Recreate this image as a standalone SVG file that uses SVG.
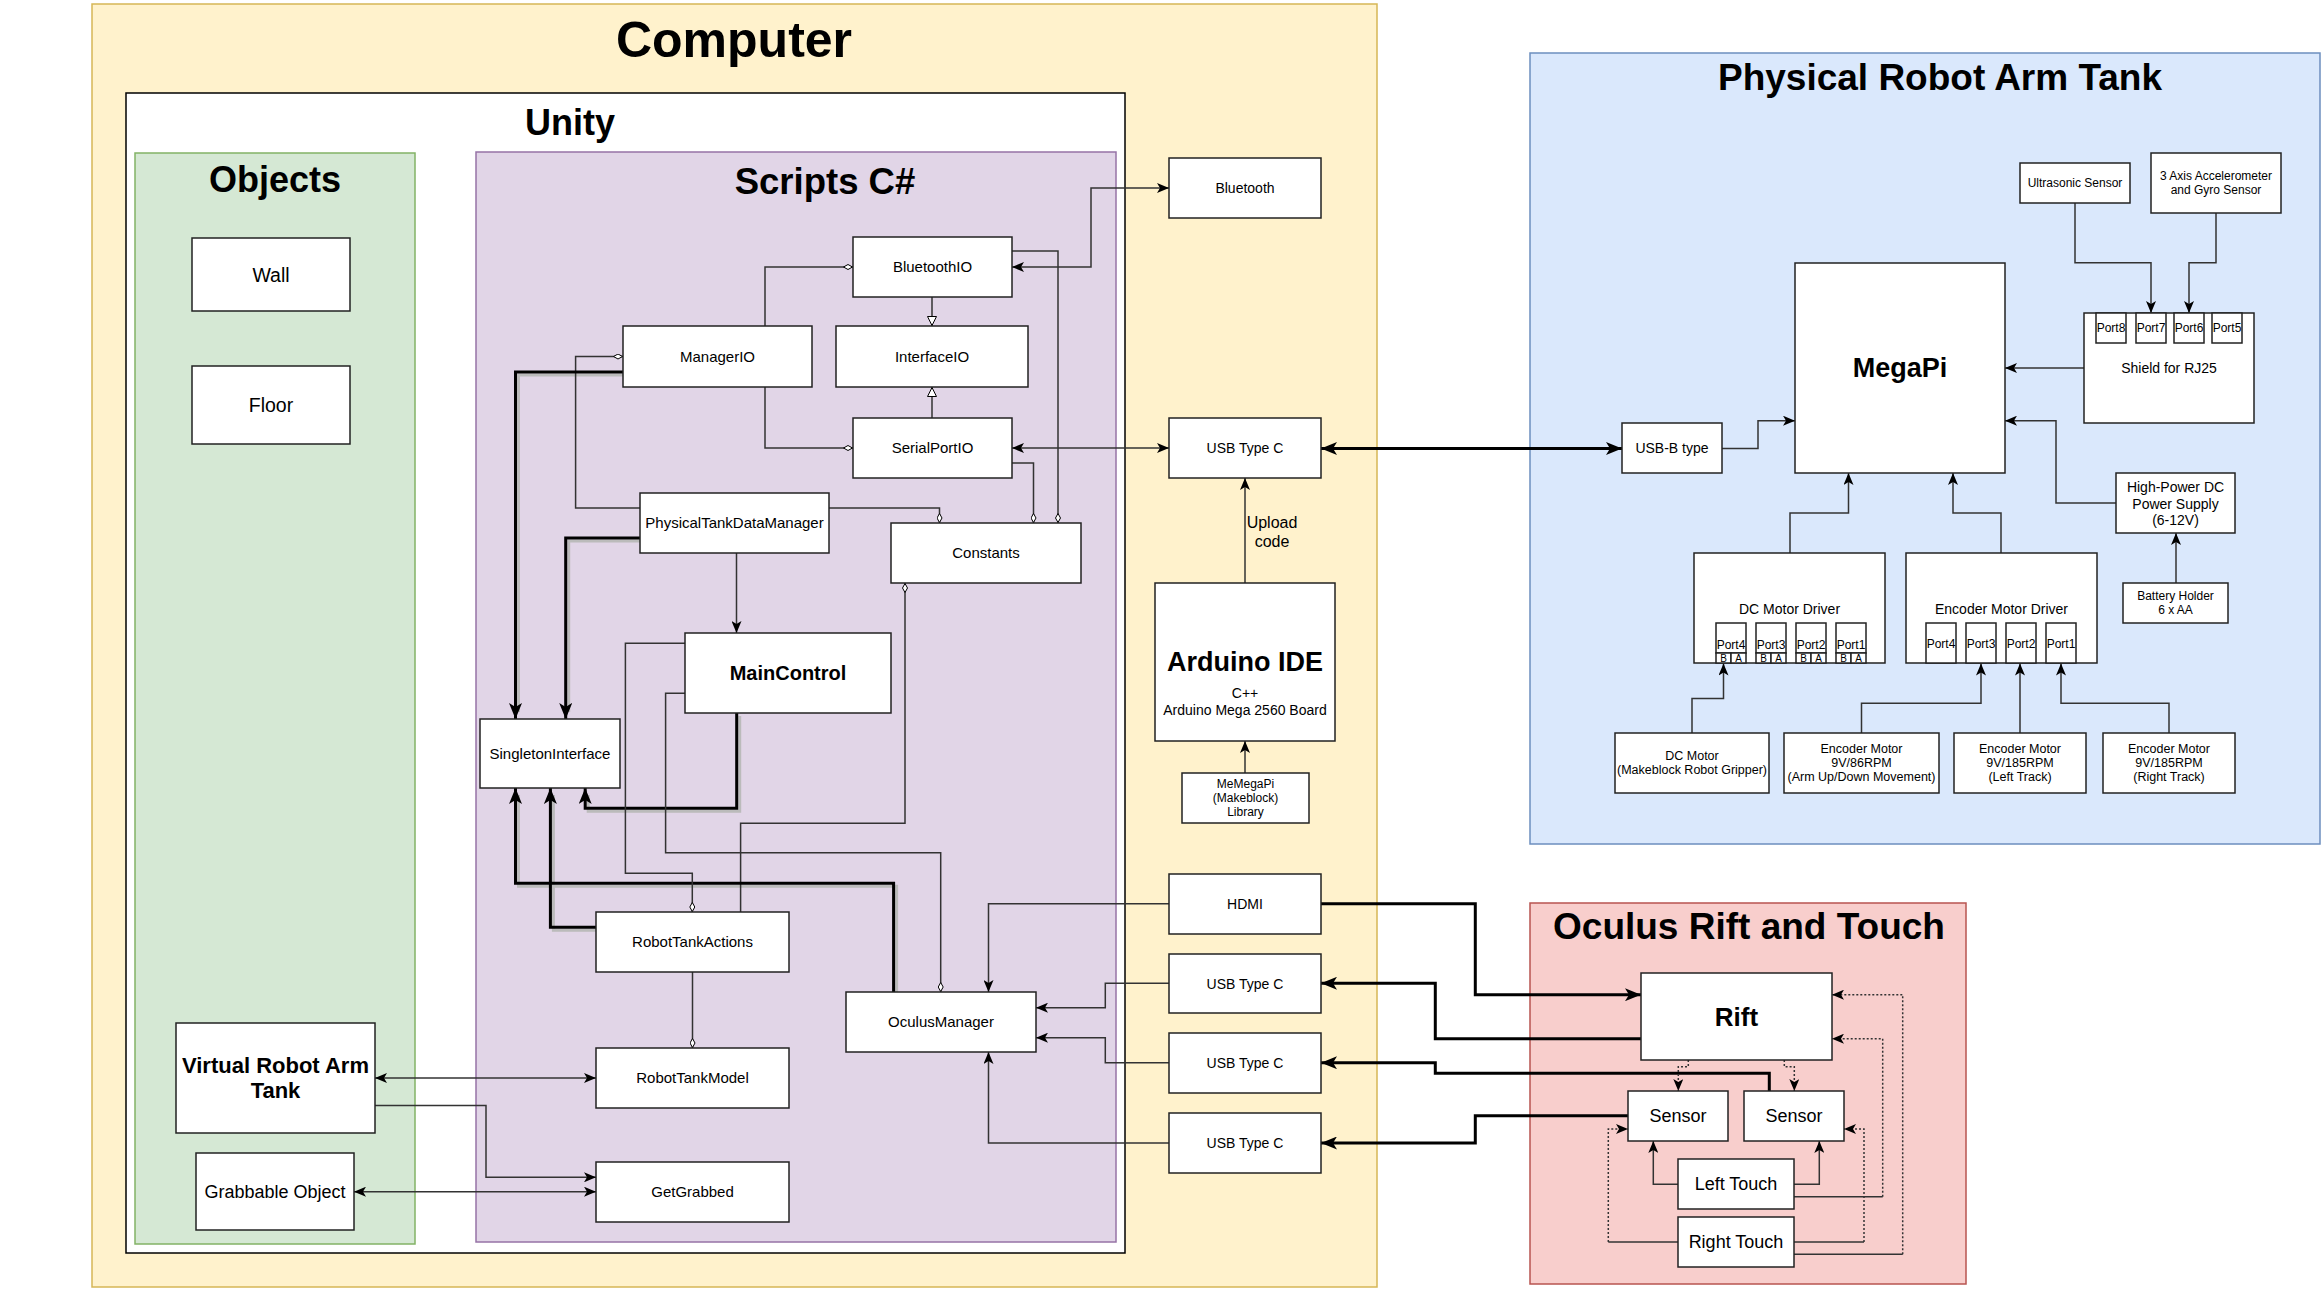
<svg xmlns="http://www.w3.org/2000/svg" width="2321" height="1289" viewBox="0 0 2321 1289">
<style>
.box{fill:#fff;stroke:#222;stroke-width:1.5}
.t{font-family:"Liberation Sans",Arial,Helvetica,sans-serif;text-anchor:middle;fill:#000}
.b{font-weight:bold}
.c{fill:none;stroke:#333;stroke-width:1.5}
.ck{fill:none;stroke:#000;stroke-width:3}
.sh{fill:none;stroke:#bbb;stroke-width:3}
.d{stroke-dasharray:2 2}
.f12{font-size:12px}.f14{font-size:14px}.f15{font-size:15px}.f18{font-size:18px}
</style>
<defs>
<marker id="a" markerUnits="userSpaceOnUse" markerWidth="12" markerHeight="10" viewBox="0 0 12 10" refX="12" refY="5" orient="auto-start-reverse"><path d="M0,0 L12,5 L0,10 L3,5 Z" fill="#000"/></marker>
<marker id="ak" markerUnits="userSpaceOnUse" markerWidth="16" markerHeight="13" viewBox="0 0 16 13" refX="16" refY="6.5" orient="auto-start-reverse"><path d="M0,0 L16,6.5 L0,13 L4,6.5 Z" fill="#000"/></marker>
<marker id="dm" markerUnits="userSpaceOnUse" markerWidth="10" markerHeight="6" viewBox="0 0 10 6" refX="10" refY="3" orient="auto"><path d="M0.5,3 L5,0.5 L9.5,3 L5,5.5 Z" fill="#fff" stroke="#000" stroke-width="1"/></marker>
<marker id="tr" markerUnits="userSpaceOnUse" markerWidth="10" markerHeight="10" viewBox="0 0 10 10" refX="10" refY="5" orient="auto"><path d="M0.5,0.5 L9.5,5 L0.5,9.5 Z" fill="#fff" stroke="#000" stroke-width="1"/></marker>
</defs>

<g id="computer">
<rect x="92" y="4" width="1285" height="1283" fill="#fff2cc" stroke="#d6b656" stroke-width="1.5"/>
<text class="t b" x="734" y="57" font-size="50">Computer</text>
</g>
<g id="unity">
<rect x="126" y="93" width="999" height="1160" fill="#fff" stroke="#000" stroke-width="1.5"/>
<text class="t b" x="570" y="135" font-size="36">Unity</text>
</g>
<g id="objects">
<rect x="135" y="153" width="280" height="1091" fill="#d5e8d4" stroke="#82b366" stroke-width="1.5"/>
<text class="t b" x="275" y="192" font-size="36">Objects</text>
</g>
<g id="scripts">
<rect x="476" y="152" width="640" height="1090" fill="#e1d5e7" stroke="#9673a6" stroke-width="1.5"/>
<text class="t b" x="825" y="194" font-size="36.5">Scripts C#</text>
</g>
<g id="physical">
<rect x="1530" y="53" width="790" height="791" fill="#dae8fc" stroke="#6c8ebf" stroke-width="1.5"/>
<text class="t b" x="1940" y="90" font-size="37">Physical Robot Arm Tank</text>
</g>
<g id="oculus">
<rect x="1530" y="903" width="436" height="381" fill="#f8cecc" stroke="#b85450" stroke-width="1.5"/>
<text class="t b" x="1749" y="939" font-size="37">Oculus Rift and Touch</text>
</g>

<g id="connectors">
<path class="sh" d="M626,375 H518.5 V712"/>
<path class="sh" d="M643,541 H568.7 V712"/>
<path class="sh" d="M739.7,716 V811.3 H588.2 V795"/>
<path class="sh" d="M896.6,995 V886.3 H518.5 V795"/>
<path class="sh" d="M599,930.3 H553.4 V795"/>
<path class="c" d="M1012,267 H1091 V188 H1169" marker-start="url(#a)" marker-end="url(#a)"/>
<path class="c" d="M1012,448 H1169" marker-start="url(#a)" marker-end="url(#a)"/>
<path class="c" d="M932,297 V326" marker-end="url(#tr)"/>
<path class="c" d="M932,418 V387" marker-end="url(#tr)"/>
<path class="c" d="M765,326 V267 H853" marker-end="url(#dm)"/>
<path class="c" d="M765,387 V448 H853" marker-end="url(#dm)"/>
<path class="c" d="M640,508 H575.6 V356.5 H623" marker-end="url(#dm)"/>
<path class="c" d="M829,508 H939.5 V523" marker-end="url(#dm)"/>
<path class="c" d="M1012,463 H1033.5 V523" marker-end="url(#dm)"/>
<path class="c" d="M1012,251 H1058 V523" marker-end="url(#dm)"/>
<path class="c" d="M740.6,912 V823.3 H905 V583" marker-end="url(#dm)"/>
<path class="c" d="M736.5,553 V633" marker-end="url(#a)"/>
<path class="ck" d="M623,372 H515.5 V719" marker-end="url(#ak)"/>
<path class="ck" d="M640,538 H565.7 V719" marker-end="url(#ak)"/>
<path class="ck" d="M736.7,713 V808.3 H585.2 V788" marker-end="url(#ak)"/>
<path class="ck" d="M893.6,992 V883.3 H515.5 V788" marker-end="url(#ak)"/>
<path class="ck" d="M596,927.3 H550.4 V788" marker-end="url(#ak)"/>
<path class="c" d="M685,643.3 H625.4 V873.3 H692.3 V912" marker-end="url(#dm)"/>
<path class="c" d="M685,693.3 H665.6 V852.7 H940.7 V992" marker-end="url(#dm)"/>
<path class="c" d="M692.5,972 V1048" marker-end="url(#dm)"/>
<path class="c" d="M375,1078 H596" marker-start="url(#a)" marker-end="url(#a)"/>
<path class="c" d="M375,1105.6 H486 V1177.3 H596" marker-end="url(#a)"/>
<path class="c" d="M354,1191.7 H596" marker-start="url(#a)" marker-end="url(#a)"/>
<path class="c" d="M1169,903.7 H988.5 V992" marker-end="url(#a)"/>
<path class="c" d="M1169,983.3 H1105.3 V1007.7 H1036" marker-end="url(#a)"/>
<path class="c" d="M1169,1062.7 H1105.3 V1037.7 H1036" marker-end="url(#a)"/>
<path class="c" d="M1169,1143 H988.5 V1052" marker-end="url(#a)"/>
<path class="c" d="M1245,773 V741" marker-end="url(#a)"/>
<path class="c" d="M1245,583 V478" marker-end="url(#a)"/>
<text class="t" x="1272" y="528" font-size="16">Upload</text>
<text class="t" x="1272" y="547" font-size="16">code</text>
<path class="ck" d="M1321,448.5 H1622" marker-start="url(#ak)" marker-end="url(#ak)"/>
<path class="c" d="M1722,448.5 H1758 V420.7 H1795" marker-end="url(#a)"/>
<path class="c" d="M2075,203 V262.8 H2151 V313" marker-end="url(#a)"/>
<path class="c" d="M2216,213 V262.8 H2189 V313" marker-end="url(#a)"/>
<path class="c" d="M2084,368 H2005" marker-end="url(#a)"/>
<path class="c" d="M2116,503 H2056 V420.7 H2005" marker-end="url(#a)"/>
<path class="c" d="M2176,583 V533" marker-end="url(#a)"/>
<path class="c" d="M1790,553 V513 H1848.5 V473" marker-end="url(#a)"/>
<path class="c" d="M2001,553 V513 H1953 V473" marker-end="url(#a)"/>
<path class="c" d="M1692,733 V698.4 H1723.5 V663.5" marker-end="url(#a)"/>
<path class="c" d="M1861.5,733 V703.3 H1981 V663.5" marker-end="url(#a)"/>
<path class="c" d="M2020,733 V663.5" marker-end="url(#a)"/>
<path class="c" d="M2169,733 V703.3 H2061 V663.5" marker-end="url(#a)"/>
<path class="ck" d="M1321,903.7 H1475.3 V994.7 H1641" marker-end="url(#ak)"/>
<path class="ck" d="M1641,1038.7 H1435.3 V983.3 H1321" marker-end="url(#ak)"/>
<path class="ck" d="M1769.3,1091 V1073.3 H1435.3 V1062.7 H1321" marker-end="url(#ak)"/>
<path class="ck" d="M1628,1115.7 H1475.3 V1143 H1321" marker-end="url(#ak)"/>
<path class="c d" d="M1688.3,1060 V1066.7 H1678.3 V1091" marker-end="url(#a)"/>
<path class="c d" d="M1784.3,1060 V1066.7 H1794.3 V1091" marker-end="url(#a)"/>
<path class="c" d="M1678,1184.3 H1653.3 V1141" marker-end="url(#a)"/>
<path class="c" d="M1794,1184.3 H1819.3 V1141" marker-end="url(#a)"/>
<path class="c" d="M1678,1242 H1608.3"/>
<path class="c d" d="M1608.3,1242 V1129 H1628" marker-end="url(#a)"/>
<path class="c" d="M1794,1242 H1864"/>
<path class="c d" d="M1864,1242 V1129 H1844" marker-end="url(#a)"/>
<path class="c" d="M1794,1196.7 H1882.7"/>
<path class="c d" d="M1882.7,1196.7 V1038.7 H1832" marker-end="url(#a)"/>
<path class="c" d="M1794,1254.3 H1902.7"/>
<path class="c d" d="M1902.7,1254.3 V994.7 H1832" marker-end="url(#a)"/>
</g>

<g id="wall"><rect class="box" x="192" y="238" width="158" height="73"/><text class="t" x="271" y="281.5" font-size="19.5">Wall</text></g>
<g id="floor"><rect class="box" x="192" y="366" width="158" height="78"/><text class="t" x="271" y="412" font-size="19.5">Floor</text></g>
<g id="virtual-robot-arm-tank"><rect class="box" x="176" y="1023" width="199" height="110"/><text class="t b" x="275.5" y="1072.5" font-size="22">Virtual Robot Arm</text><text class="t b" x="275.5" y="1098" font-size="22">Tank</text></g>
<g id="grabbable-object"><rect class="box" x="196" y="1153" width="158" height="77"/><text class="t f18" x="275" y="1198">Grabbable Object</text></g>

<g id="bluetoothio"><rect class="box" x="853" y="237" width="159" height="60"/><text class="t f15" x="932.5" y="272">BluetoothIO</text></g>
<g id="managerio"><rect class="box" x="623" y="326" width="189" height="61"/><text class="t f15" x="717.5" y="361.5">ManagerIO</text></g>
<g id="interfaceio"><rect class="box" x="836" y="326" width="192" height="61"/><text class="t f15" x="932" y="361.5">InterfaceIO</text></g>
<g id="serialportio"><rect class="box" x="853" y="418" width="159" height="60"/><text class="t f15" x="932.5" y="453">SerialPortIO</text></g>
<g id="physicaltankdatamanager"><rect class="box" x="640" y="493" width="189" height="60"/><text class="t f15" x="734.5" y="528">PhysicalTankDataManager</text></g>
<g id="constants"><rect class="box" x="891" y="523" width="190" height="60"/><text class="t f15" x="986" y="558">Constants</text></g>
<g id="maincontrol"><rect class="box" x="685" y="633" width="206" height="80"/><text class="t b" x="788" y="680" font-size="20">MainControl</text></g>
<g id="singletoninterface"><rect class="box" x="480" y="719" width="140" height="69"/><text class="t f15" x="550" y="759">SingletonInterface</text></g>
<g id="robottankactions"><rect class="box" x="596" y="912" width="193" height="60"/><text class="t f15" x="692.5" y="947">RobotTankActions</text></g>
<g id="robottankmodel"><rect class="box" x="596" y="1048" width="193" height="60"/><text class="t f15" x="692.5" y="1083">RobotTankModel</text></g>
<g id="getgrabbed"><rect class="box" x="596" y="1162" width="193" height="60"/><text class="t f15" x="692.5" y="1197">GetGrabbed</text></g>
<g id="oculusmanager"><rect class="box" x="846" y="992" width="190" height="60"/><text class="t f15" x="941" y="1027">OculusManager</text></g>

<g id="bluetooth"><rect class="box" x="1169" y="158" width="152" height="60"/><text class="t f14" x="1245" y="193">Bluetooth</text></g>
<g id="usb-type-c-1"><rect class="box" x="1169" y="418" width="152" height="60"/><text class="t f14" x="1245" y="453">USB Type C</text></g>
<g id="arduino-ide"><rect class="box" x="1155" y="583" width="180" height="158"/><text class="t b" x="1245" y="671" font-size="27">Arduino IDE</text><text class="t f14" x="1245" y="698">C++</text><text class="t f14" x="1245" y="714.5">Arduino Mega 2560 Board</text></g>
<g id="memegapi"><rect class="box" x="1182" y="773" width="127" height="50"/><text class="t f12" x="1245.5" y="788">MeMegaPi</text><text class="t f12" x="1245.5" y="802">(Makeblock)</text><text class="t f12" x="1245.5" y="816">Library</text></g>
<g id="hdmi"><rect class="box" x="1169" y="874" width="152" height="60"/><text class="t f14" x="1245" y="909">HDMI</text></g>
<g id="usb-type-c-2"><rect class="box" x="1169" y="954" width="152" height="59"/><text class="t f14" x="1245" y="988.5">USB Type C</text></g>
<g id="usb-type-c-3"><rect class="box" x="1169" y="1033" width="152" height="60"/><text class="t f14" x="1245" y="1068">USB Type C</text></g>
<g id="usb-type-c-4"><rect class="box" x="1169" y="1113" width="152" height="60"/><text class="t f14" x="1245" y="1148">USB Type C</text></g>

<g id="ultrasonic-sensor"><rect class="box" x="2020" y="163" width="110" height="40"/><text class="t f12" x="2075" y="187">Ultrasonic Sensor</text></g>
<g id="accelerometer"><rect class="box" x="2151" y="153" width="130" height="60"/><text class="t f12" x="2216" y="180">3 Axis Accelerometer</text><text class="t f12" x="2216" y="194">and Gyro Sensor</text></g>
<g id="megapi"><rect class="box" x="1795" y="263" width="210" height="210"/><text class="t b" x="1900" y="377" font-size="27">MegaPi</text></g>
<g id="shield"><rect class="box" x="2084" y="313" width="170" height="110"/><text class="t f14" x="2169" y="373">Shield for RJ25</text>
<rect class="box" x="2096" y="313" width="30" height="30"/><text class="t f12" x="2111" y="332">Port8</text>
<rect class="box" x="2136" y="313" width="30" height="30"/><text class="t f12" x="2151" y="332">Port7</text>
<rect class="box" x="2174" y="313" width="30" height="30"/><text class="t f12" x="2189" y="332">Port6</text>
<rect class="box" x="2212" y="313" width="30" height="30"/><text class="t f12" x="2227" y="332">Port5</text></g>
<g id="usb-b-type"><rect class="box" x="1622" y="423" width="100" height="50"/><text class="t f14" x="1672" y="453">USB-B type</text></g>
<g id="power-supply"><rect class="box" x="2116" y="473" width="119" height="60"/><text class="t f14" x="2175.5" y="492">High-Power DC</text><text class="t f14" x="2175.5" y="508.5">Power Supply</text><text class="t f14" x="2175.5" y="524.5">(6-12V)</text></g>
<g id="battery-holder"><rect class="box" x="2123" y="583" width="105" height="40"/><text class="t f12" x="2175.5" y="600">Battery Holder</text><text class="t f12" x="2175.5" y="613.5">6 x AA</text></g>
<g id="dc-motor-driver"><rect class="box" x="1694" y="553" width="191" height="110"/><text class="t f14" x="1789.5" y="614">DC Motor Driver</text>
<rect class="box" x="1716" y="623" width="30" height="30"/><text class="t f12" x="1731" y="649">Port4</text><rect class="box" x="1716" y="653" width="15" height="10"/><rect class="box" x="1731" y="653" width="15" height="10"/><text class="t" font-size="10" x="1723.5" y="662">B</text><text class="t" font-size="10" x="1738.5" y="662">A</text>
<rect class="box" x="1756" y="623" width="30" height="30"/><text class="t f12" x="1771" y="649">Port3</text><rect class="box" x="1756" y="653" width="15" height="10"/><rect class="box" x="1771" y="653" width="15" height="10"/><text class="t" font-size="10" x="1763.5" y="662">B</text><text class="t" font-size="10" x="1778.5" y="662">A</text>
<rect class="box" x="1796" y="623" width="30" height="30"/><text class="t f12" x="1811" y="649">Port2</text><rect class="box" x="1796" y="653" width="15" height="10"/><rect class="box" x="1811" y="653" width="15" height="10"/><text class="t" font-size="10" x="1803.5" y="662">B</text><text class="t" font-size="10" x="1818.5" y="662">A</text>
<rect class="box" x="1836" y="623" width="30" height="30"/><text class="t f12" x="1851" y="649">Port1</text><rect class="box" x="1836" y="653" width="15" height="10"/><rect class="box" x="1851" y="653" width="15" height="10"/><text class="t" font-size="10" x="1843.5" y="662">B</text><text class="t" font-size="10" x="1858.5" y="662">A</text></g>
<g id="encoder-motor-driver"><rect class="box" x="1906" y="553" width="191" height="110"/><text class="t f14" x="2001.5" y="614">Encoder Motor Driver</text>
<rect class="box" x="1926" y="623" width="30" height="40"/><text class="t f12" x="1941" y="648">Port4</text>
<rect class="box" x="1966" y="623" width="30" height="40"/><text class="t f12" x="1981" y="648">Port3</text>
<rect class="box" x="2006" y="623" width="30" height="40"/><text class="t f12" x="2021" y="648">Port2</text>
<rect class="box" x="2046" y="623" width="30" height="40"/><text class="t f12" x="2061" y="648">Port1</text></g>
<g id="dc-motor"><rect class="box" x="1615" y="733" width="154" height="60"/><text class="t" font-size="12.5" x="1692" y="760">DC Motor</text><text class="t" font-size="12.5" x="1692" y="774">(Makeblock Robot Gripper)</text></g>
<g id="encoder-motor-arm"><rect class="box" x="1784" y="733" width="155" height="60"/><text class="t" font-size="12.5" x="1861.5" y="753">Encoder Motor</text><text class="t" font-size="12.5" x="1861.5" y="767">9V/86RPM</text><text class="t" font-size="12.5" x="1861.5" y="781">(Arm Up/Down Movement)</text></g>
<g id="encoder-motor-left"><rect class="box" x="1954" y="733" width="132" height="60"/><text class="t" font-size="12.5" x="2020" y="753">Encoder Motor</text><text class="t" font-size="12.5" x="2020" y="767">9V/185RPM</text><text class="t" font-size="12.5" x="2020" y="781">(Left Track)</text></g>
<g id="encoder-motor-right"><rect class="box" x="2103" y="733" width="132" height="60"/><text class="t" font-size="12.5" x="2169" y="753">Encoder Motor</text><text class="t" font-size="12.5" x="2169" y="767">9V/185RPM</text><text class="t" font-size="12.5" x="2169" y="781">(Right Track)</text></g>

<g id="rift"><rect class="box" x="1641" y="973" width="191" height="87"/><text class="t b" x="1736.5" y="1026" font-size="26">Rift</text></g>
<g id="sensor-1"><rect class="box" x="1628" y="1091" width="100" height="50"/><text class="t f18" x="1678" y="1122">Sensor</text></g>
<g id="sensor-2"><rect class="box" x="1744" y="1091" width="100" height="50"/><text class="t f18" x="1794" y="1122">Sensor</text></g>
<g id="left-touch"><rect class="box" x="1678" y="1159" width="116" height="50"/><text class="t f18" x="1736" y="1190">Left Touch</text></g>
<g id="right-touch"><rect class="box" x="1678" y="1217" width="116" height="50"/><text class="t f18" x="1736" y="1248">Right Touch</text></g>
</svg>
